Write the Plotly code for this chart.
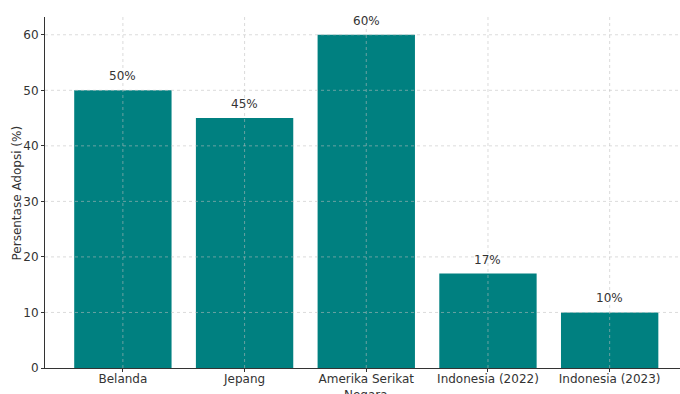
import plotly.graph_objects as go

categories = ["Belanda", "Jepang", "Amerika Serikat", "Indonesia (2022)", "Indonesia (2023)"]
values = [50, 45, 60, 17, 10]
y_ticks = [0, 10, 20, 30, 40, 50, 60]

FONT = "DejaVu Sans"
TXT = "#333333"

fig = go.Figure()
fig.add_trace(go.Bar(x=categories, y=values, marker=dict(color="#008080", line=dict(width=0)),
                     width=0.8, hoverinfo="skip"))

for c, v in zip(categories, values):
    fig.add_annotation(x=c, y=v, text=f"{v}%", showarrow=False, yanchor="bottom", yshift=5,
                       font=dict(family=FONT, size=12, color=TXT))

fig.add_annotation(xref="paper", yref="paper", x=0.506, y=-0.05, yanchor="top", xanchor="center",
                   text="Negara", showarrow=False, font=dict(family=FONT, size=12, color=TXT))
fig.add_annotation(xref="paper", yref="paper", x=-0.0441, y=0.5, xanchor="center", yanchor="middle",
                   text="Persentase Adopsi (%)", textangle=-90, showarrow=False,
                   font=dict(family=FONT, size=12, color=TXT))

# gridlines drawn above bars (as in reference)
shapes = []
for t in y_ticks[1:]:
    shapes.append(dict(type="line", xref="paper", yref="y", x0=0, x1=1, y0=t, y1=t,
                       line=dict(color="rgba(190,190,190,0.55)", width=1, dash="dot"), layer="above"))
for i, c in enumerate(categories):
    shapes.append(dict(type="line", xref="x", yref="paper", x0=i, x1=i, y0=0, y1=1,
                       line=dict(color="rgba(190,190,190,0.55)", width=1, dash="dot"), layer="above"))
fig.update_layout(shapes=shapes)

fig.update_layout(
    width=680, height=394,
    margin=dict(l=45, r=0, t=17, b=26, autoexpand=False),
    paper_bgcolor="white", plot_bgcolor="white",
    showlegend=False,
    font=dict(family=FONT, size=12, color=TXT),
    bargap=0.2,
)
fig.update_xaxes(
    type="category", range=[-0.64, 4.578], automargin=False,
    showgrid=False, showline=True, linecolor="#333333", linewidth=1,
    ticks="outside", ticklen=3, tickcolor="#333333", ticklabelstandoff=-3,
    tickfont=dict(family=FONT, size=12, color=TXT),
    zeroline=False,
)
fig.update_yaxes(
    range=[0, 63.2], tickvals=y_ticks, automargin=False,
    showgrid=False, showline=True, linecolor="#333333", linewidth=1,
    ticks="outside", ticklen=3, tickcolor="#333333",
    tickfont=dict(family=FONT, size=12, color=TXT),
    zeroline=False,
)

fig.write_html("out.html")
